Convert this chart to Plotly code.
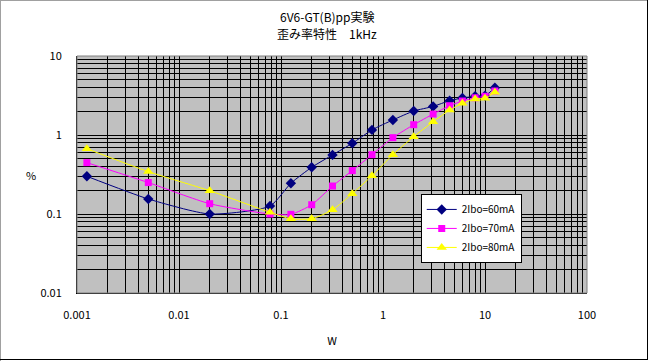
import plotly.graph_objects as go

# Power output (W)
power_w = [0.00125, 0.005, 0.02, 0.078, 0.125, 0.2, 0.32, 0.5, 0.78,
           1.25, 2.0, 3.1, 4.5, 6.0, 8.0, 10.0, 12.5]

# Distortion (%)
dist_60 = [0.30, 0.155, 0.10, 0.126, 0.245, 0.39, 0.56, 0.785, 1.16,
           1.55, 2.01, 2.3, 2.72, 2.94, 3.09, 3.14, 3.97]
dist_70 = [0.447, 0.25, 0.135, 0.10, 0.099, 0.131, 0.226, 0.354, 0.564,
           0.925, 1.35, 1.84, 2.35, 2.69, 2.96, 3.09, 3.6]
dist_80 = [0.67, 0.344, 0.197, 0.105, 0.087, 0.087, 0.113, 0.181, 0.305,
           0.564, 0.953, 1.47, 2.07, 2.52, 2.86, 2.92, 3.47]

series_names = ["2Ibo=60mA", "2Ibo=70mA", "2Ibo=80mA"]
series_colors = ["#000080", "#FF00FF", "#FFFF00"]
series_symbols = ["diamond", "square", "triangle-up"]
series_sizes = [8, 7, 9]

x_tickvals = [0.001, 0.01, 0.1, 1, 10, 100]
x_ticktext = ["0.001", "0.01", "0.1", "1", "10", "100"]
y_tickvals = [0.01, 0.1, 1, 10]
y_ticktext = ["0.01", "0.1", "1", "10"]

title_line1 = "6V6-GT(B)pp実験"
title_line2 = "歪み率特性\u30001kHz"

FONT = "Noto Sans CJK JP, Liberation Sans, sans-serif"

fig = go.Figure()
for name, ys, col, sym, sz in zip(series_names, [dist_60, dist_70, dist_80],
                                  series_colors, series_symbols, series_sizes):
    fig.add_trace(go.Scatter(
        x=power_w, y=ys, name=name, mode="lines+markers",
        line=dict(color=col, width=1, shape="spline", smoothing=0.6),
        marker=dict(symbol=sym, size=sz, color=col, line=dict(width=0)),
    ))

axis_common = dict(
    type="log", showline=True, linecolor="black", linewidth=1, mirror=False,
    showgrid=True, gridcolor="black", gridwidth=1, zeroline=False,
    ticks="", automargin=False,
    tickfont=dict(family=FONT, size=11, color="black"),
    minor=dict(dtick="D1", showgrid=True, gridcolor="black", gridwidth=1, ticks=""),
)

fig.update_xaxes(range=[-3, 2], tickvals=x_tickvals, ticktext=x_ticktext,
                 ticklabelstandoff=12,
                 title=dict(text="W", font=dict(family=FONT, size=11, color="black"),
                            standoff=16),
                 **axis_common)
fig.update_yaxes(range=[-2, 1], tickvals=y_tickvals, ticktext=y_ticktext,
                 ticklabelstandoff=12, **axis_common)

fig.update_layout(
    width=649, height=361,
    margin=dict(l=77, r=62, t=56, b=68),
    paper_bgcolor="white", plot_bgcolor="#C0C0C0",
    font=dict(family=FONT, size=11, color="black"),
    showlegend=True,
    legend=dict(x=0.674, y=0.418, xanchor="left", yanchor="top",
                bgcolor="white", bordercolor="black", borderwidth=1,
                font=dict(family=FONT, size=10, color="black"),
                itemwidth=30, tracegroupgap=0),
    annotations=[
        dict(text=title_line1, xref="paper", yref="paper", x=0.49, y=1,
             yanchor="middle", yshift=40, showarrow=False,
             font=dict(family=FONT, size=12, color="black")),
        dict(text=title_line2, xref="paper", yref="paper", x=0.49, y=1,
             yanchor="middle", yshift=22.5, showarrow=False,
             font=dict(family=FONT, size=12, color="black")),
        dict(text="%", xref="paper", yref="paper", x=-0.09, y=0.5,
             showarrow=False, xanchor="center",
             font=dict(family=FONT, size=11, color="black")),
    ],
    shapes=[
        # plot area frame (gray top/right)
        dict(type="rect", xref="paper", yref="paper", x0=0, y0=0, x1=1, y1=1,
             line=dict(color="#808080", width=1), layer="above"),
        # chart area border
        dict(type="line", xref="paper", yref="paper", x0=-76.5/510, x1=-76.5/510,
             y0=-68/237, y1=(237+56)/237, line=dict(color="#A0A0A0", width=1)),
        dict(type="line", xref="paper", yref="paper", x0=-77/510, x1=(510+61)/510,
             y0=(237+55.5)/237, y1=(237+55.5)/237, line=dict(color="#A0A0A0", width=1)),
        dict(type="line", xref="paper", yref="paper", x0=(510+60.5)/510, x1=(510+60.5)/510,
             y0=-67/237, y1=(237+56)/237, line=dict(color="black", width=1)),
        dict(type="line", xref="paper", yref="paper", x0=-77/510, x1=(510+61)/510,
             y0=-66.5/237, y1=-66.5/237, line=dict(color="black", width=1)),
    ],
)

fig.write_html("out.html", config={"displayModeBar": False},
               post_script="document.body.style.margin='0px';document.body.style.padding='0px';")
